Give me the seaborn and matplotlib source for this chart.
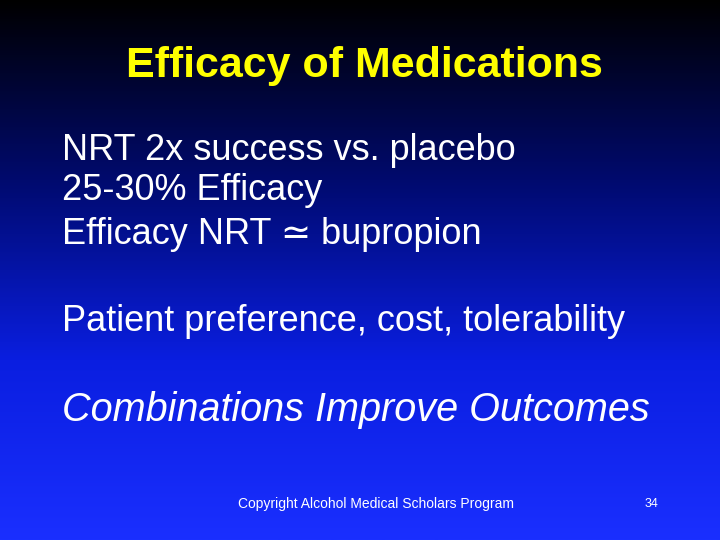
import numpy as np
import matplotlib
matplotlib.use("Agg")
import matplotlib.pyplot as plt
from matplotlib.colors import LinearSegmentedColormap
import seaborn as sns

# ── Slide content ───────────────────────────────────────────
TITLE = "Efficacy of Medications"
BULLETS = ["NRT 2x success vs. placebo", "25-30% Efficacy", "Efficacy NRT \u2243 bupropion"]
NOTE = "Patient preference, cost, tolerability"
EMPHASIS = "Combinations Improve Outcomes"
FOOTER = "Copyright Alcohol Medical Scholars Program"
PAGE = "34"

sns.set_theme(style="white")
plt.rcParams["font.family"] = ["Liberation Sans", "DejaVu Sans"]

fig = plt.figure(figsize=(7.2, 5.4), dpi=100)
ax = fig.add_axes([0, 0, 1, 1])
ax.set_axis_off()

# vertical black-to-blue background
cmap = LinearSegmentedColormap.from_list("bg", ["#000000", "#000a6e", "#0a1ee0", "#1a2fff"])
grad = np.linspace(0, 1, 256).reshape(-1, 1)
ax.imshow(grad, aspect="auto", cmap=cmap, extent=[0, 1, 0, 1], origin="upper")
ax.set_xlim(0, 1); ax.set_ylim(0, 1)

fig.text(0.506, 0.877, TITLE, color="#ffff00", fontsize=31, fontweight="bold",
         ha="center", va="center")

for y, line in zip([0.722, 0.648, 0.565], BULLETS):
    fig.text(0.086, y, line, color="white", fontsize=26, ha="left", va="center")

fig.text(0.086, 0.405, NOTE, color="white", fontsize=26, ha="left", va="center")
fig.text(0.086, 0.24, EMPHASIS, color="white", fontsize=28.5, style="italic",
         ha="left", va="center")

fig.text(0.522, 0.066, FOOTER, color="white", fontsize=10, ha="center", va="center")
fig.text(0.905, 0.066, PAGE, color="white", fontsize=9, ha="center", va="center")

fig.savefig("out.png", dpi=100)
